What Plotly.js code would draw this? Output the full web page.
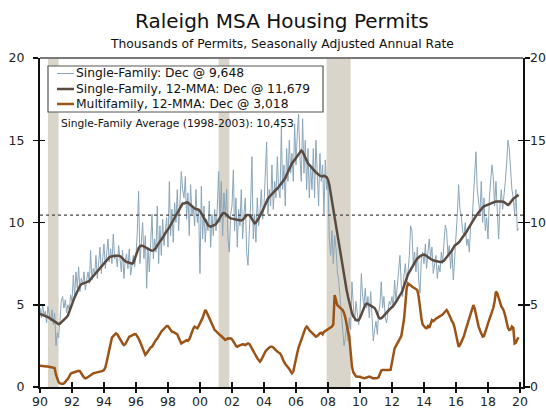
<!DOCTYPE html>
<html><head><meta charset="utf-8">
<script src="https://cdn.plot.ly/plotly-3.0.1.min.js"></script>
<style>html,body{margin:0;padding:0;background:#fff;}#chart{width:546px;height:409px;}</style>
</head><body><div id="chart"></div>
<script>
// Monthly data, Jan 1990 - Dec 2019 (thousands of permits, SAAR)
const startYear = 1990;
const endYear = 2019;

const singleFamily = [
 4.8,4.2,5.0,4.4,4.6,3.9,4.9,4.3,4.0,4.7,3.8,4.5,
 2.5,3.3,3.0,4.0,5.2,5.5,4.8,5.3,4.5,5.0,4.7,5.6,
 5.2,6.8,5.5,7.0,6.0,7.3,5.8,6.6,6.2,7.0,5.9,6.5,
 7.0,6.3,8.3,6.5,7.2,6.8,8.0,6.6,7.5,8.5,6.9,7.8,
 8.7,7.2,8.2,9.0,7.6,8.4,7.5,9.3,7.8,8.0,7.3,8.6,
 7.8,7.0,8.3,6.6,7.7,8.1,7.2,8.4,6.8,7.5,8.0,7.3,
 8.0,9.5,11.9,7.5,8.8,10.0,7.8,9.2,6.0,8.5,7.0,8.4,
 10.5,7.8,9.0,8.2,11.0,7.5,9.8,8.0,10.2,8.6,9.5,10.3,
 8.5,12.5,9.2,10.8,8.8,11.2,10.0,12.0,9.5,11.5,13.1,12.0,
 11.5,12.8,10.2,11.8,9.2,12.3,10.5,11.0,9.8,12.0,10.0,10.8,
 6.9,12.2,9.0,11.0,8.8,10.2,9.5,11.3,8.5,10.5,9.2,10.8,
 9.5,11.0,13.1,10.0,12.5,9.2,11.8,10.3,12.0,9.0,8.2,10.5,
 11.0,13.2,9.5,11.5,8.5,10.8,9.8,12.0,9.0,10.5,11.5,8.2,
 7.4,9.5,11.0,14.0,9.0,10.5,8.8,11.5,9.8,10.6,12.0,10.2,
 11.0,13.0,14.9,10.5,12.0,11.0,13.5,10.8,12.5,11.5,14.0,12.0,
 11.5,15.8,12.0,13.5,11.0,14.5,12.5,15.0,13.0,14.2,12.5,16.0,
 13.5,15.5,16.6,14.0,12.5,16.3,13.0,15.0,12.0,14.5,11.5,13.5,
 12.0,14.5,11.5,15.0,12.8,11.0,14.2,12.5,13.5,10.5,13.8,12.0,
 12.5,9.0,8.0,9.5,7.5,9.2,8.5,7.0,6.5,5.5,4.5,3.5,
 2.5,3.0,3.8,2.8,4.2,3.5,6.4,5.0,4.0,5.2,4.4,3.8,
 4.5,6.9,5.5,5.0,6.0,4.8,5.5,4.2,5.8,3.8,2.8,3.5,
 4.0,3.2,4.5,5.0,6.4,4.8,5.5,4.2,3.9,4.6,5.2,5.0,
 5.5,4.8,6.5,5.2,6.0,7.2,8.0,6.2,5.5,6.8,7.5,6.4,
 7.0,8.0,9.8,9.5,7.5,8.2,7.0,8.5,6.5,5.7,7.8,8.2,
 7.5,8.7,7.2,8.2,9.0,7.8,8.5,6.9,7.6,8.0,6.6,7.4,
 7.0,8.2,7.5,9.0,9.85,9.5,8.0,8.6,7.2,8.4,6.5,7.8,
 9.0,10.5,12.3,10.8,10.4,9.5,9.2,10.0,8.6,9.0,8.2,9.8,
 10.0,11.5,13.0,14.3,12.0,11.0,10.5,12.5,10.0,11.5,9.5,10.3,
 9.0,11.5,12.4,13.5,12.8,11.0,12.5,10.5,9.0,11.0,12.0,10.8,
 11.5,12.5,13.5,15.0,14.5,12.8,12.0,11.5,10.5,12.0,9.5,9.648
];

const singleFamilyMMA = [
 4.45,4.42,4.40,4.38,4.35,4.30,4.25,4.20,4.15,4.10,4.05,3.98,
 3.90,3.85,3.82,3.85,3.92,4.00,4.10,4.18,4.25,4.35,4.55,4.80,
 5.05,5.25,5.45,5.65,5.85,6.00,6.15,6.25,6.30,6.32,6.35,6.38,
 6.40,6.45,6.55,6.65,6.75,6.85,6.95,7.05,7.15,7.25,7.35,7.45,
 7.50,7.60,7.70,7.80,7.88,7.92,7.95,7.97,7.98,7.98,7.99,7.98,
 7.96,7.90,7.82,7.72,7.65,7.60,7.58,7.55,7.52,7.50,7.55,7.80,
 8.05,8.30,8.45,8.55,8.60,8.58,8.55,8.50,8.45,8.40,8.35,8.30,
 8.28,8.30,8.35,8.45,8.60,8.75,8.85,8.95,9.05,9.20,9.35,9.45,
 9.55,9.70,9.85,10.00,10.15,10.30,10.45,10.60,10.75,10.90,11.05,11.15,
 11.15,11.20,11.22,11.20,11.12,11.05,10.98,10.90,10.85,10.82,10.80,10.78,
 10.70,10.55,10.40,10.25,10.10,9.95,9.85,9.78,9.75,9.78,9.80,9.85,
 9.90,10.00,10.15,10.30,10.45,10.56,10.58,10.55,10.45,10.35,10.30,10.25,
 10.25,10.22,10.20,10.18,10.15,10.15,10.12,10.12,10.15,10.25,10.35,10.45,
 10.46,10.45,10.35,10.20,10.05,9.95,10.00,10.10,10.25,10.40,10.55,10.70,
 10.90,11.10,11.30,11.45,11.55,11.65,11.75,11.85,11.95,12.00,12.05,12.15,
 12.25,12.35,12.45,12.55,12.70,12.90,13.10,13.30,13.45,13.60,13.70,13.80,
 13.90,14.00,14.10,14.25,14.37,14.30,14.10,13.90,13.75,13.60,13.50,13.40,
 13.30,13.22,13.15,13.05,12.98,12.90,12.85,12.82,12.80,12.85,12.82,12.75,
 12.60,12.30,11.80,11.30,10.80,10.20,9.60,9.10,8.60,8.10,7.60,7.10,
 6.70,6.30,5.90,5.50,5.10,4.75,4.50,4.30,4.15,4.08,4.05,4.07,
 4.20,4.40,4.65,4.85,5.00,5.08,5.05,5.00,4.95,4.90,4.85,4.80,
 4.65,4.45,4.25,4.17,4.18,4.25,4.35,4.45,4.55,4.62,4.70,4.78,
 4.85,4.95,5.05,5.15,5.30,5.45,5.55,5.70,5.90,6.10,6.35,6.60,
 6.85,7.00,7.15,7.30,7.45,7.60,7.70,7.80,7.90,7.95,8.00,8.02,
 8.05,8.02,7.98,7.92,7.85,7.78,7.72,7.70,7.68,7.65,7.62,7.60,
 7.60,7.60,7.62,7.68,7.78,7.88,7.95,8.05,8.15,8.30,8.45,8.60,
 8.65,8.70,8.78,8.88,8.98,9.10,9.22,9.34,9.45,9.60,9.75,9.90,
 10.05,10.20,10.32,10.40,10.50,10.62,10.75,10.86,10.92,10.98,11.02,11.06,
 11.06,11.10,11.15,11.18,11.22,11.25,11.27,11.28,11.30,11.30,11.28,11.27,
 11.25,11.18,11.10,11.06,11.12,11.25,11.35,11.45,11.50,11.55,11.62,11.679
];

const multiFamilyMMA = [
 1.30,1.28,1.27,1.26,1.25,1.25,1.24,1.23,1.22,1.21,1.20,1.15,
 0.75,0.50,0.30,0.22,0.18,0.18,0.22,0.30,0.40,0.50,0.65,0.80,
 0.85,0.88,0.92,0.96,0.99,0.98,0.95,0.85,0.70,0.58,0.52,0.55,
 0.62,0.67,0.72,0.78,0.83,0.85,0.86,0.88,0.90,0.93,0.95,0.98,
 1.03,1.20,1.50,1.85,2.30,2.70,3.00,3.10,3.20,3.26,3.20,3.05,
 2.85,2.70,2.65,2.55,2.60,2.75,2.95,3.06,3.10,3.15,3.20,3.22,
 3.20,3.10,2.95,2.76,2.55,2.35,2.15,1.95,2.05,2.20,2.35,2.41,
 2.45,2.60,2.75,2.86,2.95,3.10,3.25,3.36,3.45,3.55,3.65,3.71,
 3.70,3.60,3.45,3.36,3.35,3.30,3.26,3.20,3.00,2.80,2.65,2.70,
 2.75,2.82,2.85,2.80,2.90,3.10,3.35,3.55,3.67,3.60,3.57,3.70,
 3.85,3.97,4.20,4.45,4.68,4.55,4.38,4.20,4.00,3.80,3.60,3.47,
 3.40,3.30,3.20,3.16,3.10,3.00,2.90,2.86,2.90,2.96,2.95,2.96,
 2.90,2.80,2.65,2.50,2.45,2.50,2.55,2.55,2.60,2.58,2.55,2.60,
 2.65,2.62,2.50,2.35,2.20,2.05,1.90,1.75,1.60,1.54,1.65,1.85,
 2.00,2.15,2.25,2.35,2.40,2.45,2.45,2.40,2.30,2.20,2.15,2.10,
 2.05,1.90,1.70,1.54,1.40,1.30,1.24,1.10,0.95,0.83,0.95,1.40,
 1.84,2.10,2.40,2.65,2.90,3.10,3.35,3.55,3.67,3.60,3.45,3.36,
 3.30,3.20,3.10,3.06,3.10,3.20,3.26,3.30,3.20,3.35,3.40,3.47,
 3.50,3.55,3.60,3.67,3.80,5.59,5.30,4.98,4.90,4.85,4.75,4.68,
 4.50,4.20,3.67,3.40,3.06,2.00,1.24,0.90,0.75,0.65,0.63,0.63,
 0.62,0.58,0.55,0.53,0.55,0.58,0.62,0.63,0.60,0.55,0.52,0.53,
 0.53,0.55,0.60,0.80,1.00,1.03,1.03,1.02,1.00,1.02,1.03,1.05,
 1.50,1.90,2.35,2.50,2.65,2.80,2.90,3.10,3.60,4.10,5.00,6.00,
 6.30,6.22,6.15,6.10,6.05,6.00,5.95,5.90,5.50,4.68,4.20,3.80,
 3.67,3.60,3.57,3.70,3.60,3.85,4.07,4.00,4.10,4.15,4.20,4.25,
 4.28,4.35,4.40,4.50,4.60,4.68,4.55,4.40,4.20,4.00,3.87,3.60,
 3.20,2.80,2.45,2.55,2.70,2.86,3.10,3.40,3.65,3.87,4.10,4.40,
 4.70,4.98,4.80,4.40,4.00,3.67,3.45,3.25,3.06,3.10,3.30,3.60,
 3.87,4.10,4.30,4.58,4.80,5.20,5.80,5.70,5.40,5.10,4.90,4.78,
 4.60,4.30,4.00,3.60,3.47,3.50,3.67,3.60,2.65,2.70,2.90,3.018
];

const sfAverage = 10.453;
const recessionStarts = ["1990-07-01","2001-03-01","2007-12-01"];
const recessionEnds   = ["1991-03-01","2001-11-01","2009-06-01"];
const yTicks = [0,5,10,15,20];
const seriesNames = [
  "Single-Family: Dec @ 9,648",
  "Single-Family, 12-MMA: Dec @ 11,679",
  "Multifamily, 12-MMA: Dec @ 3,018"
];
const avgLabel = "Single-Family Average (1998-2003): 10,453";
const titleText = "Raleigh MSA Housing Permits";
const subtitleText = "Thousands of Permits, Seasonally Adjusted Annual Rate";

// month dates
const dates = [];
for (let y = startYear; y <= endYear; y++) {
  for (let m = 1; m <= 12; m++) dates.push(y + "-" + String(m).padStart(2,"0") + "-01");
}

const colors = ["#8aa5b9", "#5a4a40", "#9b5316"];
const FONT = "DejaVu Sans, Verdana, sans-serif";

const traces = [
  {x: dates, y: singleFamily, type: "scatter", mode: "lines", name: seriesNames[0],
   line: {color: colors[0], width: 1}},
  {x: dates, y: singleFamilyMMA, type: "scatter", mode: "lines", name: seriesNames[1],
   line: {color: colors[1], width: 2.5}},
  {x: dates, y: multiFamilyMMA, type: "scatter", mode: "lines", name: seriesNames[2],
   line: {color: colors[2], width: 2.5}},
  // invisible helper so overlay axes get drawn
  {x: [dates[0]], y: [0], xaxis: "x2", yaxis: "y2", type: "scatter", mode: "markers",
   marker: {opacity: 0}, showlegend: false, hoverinfo: "skip"}
];

const xRange = ["1990-01-01", "2020-03-10"];
const shapes = [];
for (let i = 0; i < recessionStarts.length; i++) {
  shapes.push({type: "rect", xref: "x", yref: "paper", x0: recessionStarts[i], x1: recessionEnds[i],
    y0: 0, y1: 1, fillcolor: "#d9d5ca", line: {width: 0}, layer: "below"});
}
shapes.push({type: "line", xref: "paper", yref: "y", x0: 0, x1: 1, y0: sfAverage, y1: sfAverage,
  line: {color: "#444", width: 1.2, dash: "dot"}, layer: "above"});
shapes.push({type: "line", xref: "paper", yref: "paper", x0: 0, x1: 1, y0: 1, y1: 1,
  line: {color: "#7a7a7a", width: 2}});

// manual legend box (paper coords relative to plot area)
const L = 40, T = 58, W = 483, H = 329;
function px(xp){ return (xp - L) / W; }
function py(yp){ return (T + H - yp) / H; }
shapes.push({type: "rect", xref: "paper", yref: "paper", x0: px(48), x1: px(323), y0: py(112), y1: py(66),
  fillcolor: "#ffffff", line: {color: "#555", width: 1.2}, layer: "above"});
const legendRows = [73.5, 89, 104];
const legendWidths = [1, 2.5, 2.5];
const annotations = [];
for (let i = 0; i < 3; i++) {
  shapes.push({type: "line", xref: "paper", yref: "paper", x0: px(57), x1: px(74), y0: py(legendRows[i]), y1: py(legendRows[i]),
    line: {color: colors[i], width: legendWidths[i]}, layer: "above"});
  annotations.push({xref: "paper", yref: "paper", x: px(74), y: py(legendRows[i]), xanchor: "left", yanchor: "middle",
    text: seriesNames[i], showarrow: false, font: {family: FONT, size: 12.3, color: "#111"}});
}
annotations.push({xref: "paper", yref: "paper", x: px(59), y: py(123), xanchor: "left", yanchor: "middle",
  text: avgLabel, showarrow: false, font: {family: FONT, size: 10.7, color: "#111"}});
annotations.push({xref: "paper", yref: "paper", x: 0.5, y: py(21), xanchor: "center", yanchor: "middle",
  text: titleText, showarrow: false, font: {family: FONT, size: 20, color: "#111"}});
annotations.push({xref: "paper", yref: "paper", x: 0.5, y: py(44), xanchor: "center", yanchor: "middle",
  text: subtitleText, showarrow: false, font: {family: FONT, size: 12.3, color: "#111"}});

const tickFont = {family: FONT, size: 12.5, color: "#222"};
const layout = {
  width: 546, height: 409,
  margin: {l: L, r: 546 - L - W, t: T, b: 409 - T - H, pad: 0},
  paper_bgcolor: "#fff", plot_bgcolor: "#fff",
  showlegend: false,
  // labelled x axis draws the inward ticks; its overlay draws the outward ticks
  xaxis: {type: "date", range: xRange, tick0: "1990-01-01", dtick: "M24", tickformat: "%y",
    ticks: "inside", ticklen: 5, tickwidth: 1.5, tickcolor: "#111",
    showline: true, linecolor: "#111", linewidth: 2, showgrid: false, zeroline: false,
    tickfont: tickFont, ticklabelstandoff: 2, fixedrange: true},
  xaxis2: {type: "date", range: xRange, tick0: "1990-01-01", dtick: "M24", overlaying: "x",
    ticks: "outside", ticklen: 5, tickwidth: 1.5, tickcolor: "#111", showticklabels: false,
    showline: false, showgrid: false, zeroline: false, anchor: "y"},
  yaxis: {range: [0, 20], tickvals: yTicks, ticks: "outside", ticklen: 5, tickwidth: 1.5, tickcolor: "#111",
    mirror: "ticks", showline: true, linecolor: "#111", linewidth: 2, showgrid: false, zeroline: false,
    tickfont: tickFont, ticklabelstandoff: 6},
  yaxis2: {range: [0, 20], tickvals: yTicks, overlaying: "y", side: "right", anchor: "x",
    ticks: "inside", ticklen: 5, tickwidth: 1.5, tickcolor: "#111", mirror: "ticks",
    showline: false, showgrid: false, zeroline: false, tickfont: tickFont, ticklabelstandoff: 6},
  shapes: shapes,
  annotations: annotations
};

Plotly.newPlot("chart", traces, layout, {displayModeBar: false, staticPlot: true});
</script></body></html>
